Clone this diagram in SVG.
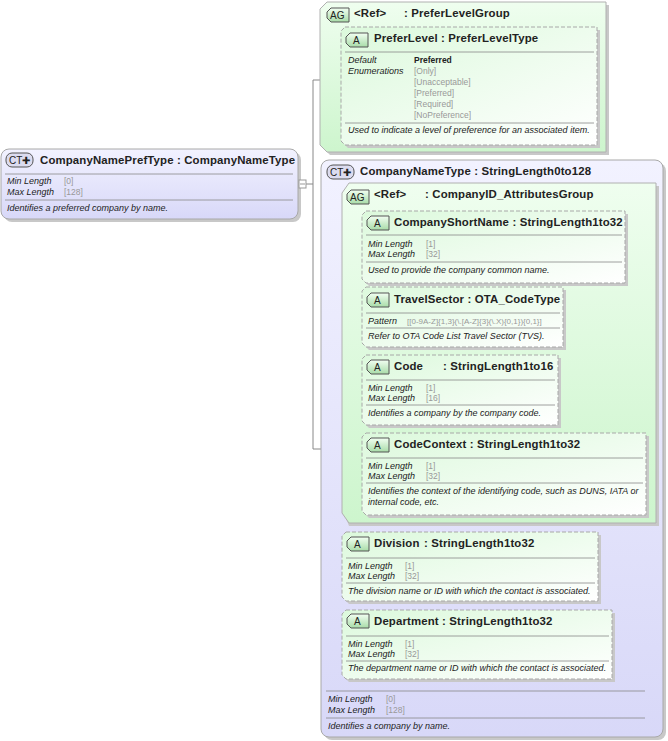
<svg xmlns="http://www.w3.org/2000/svg" width="668" height="741" viewBox="0 0 668 741">
<defs>
<linearGradient id="gG" x1="0" y1="0" x2="0" y2="1"><stop offset="0" stop-color="#effeef"/><stop offset="1" stop-color="#cdf5cd"/></linearGradient>
<linearGradient id="gA" x1="0" y1="0" x2="1" y2="1"><stop offset="0" stop-color="#dcf9dc"/><stop offset="1" stop-color="#ffffff"/></linearGradient>
<linearGradient id="gC" x1="0" y1="0" x2="0" y2="1"><stop offset="0" stop-color="#f2f2ff"/><stop offset="1" stop-color="#d8d8f8"/></linearGradient>
<linearGradient id="gB" x1="0" y1="0" x2="0" y2="1"><stop offset="0" stop-color="#f2fff2"/><stop offset="1" stop-color="#a8dca8"/></linearGradient>
</defs>
<style>
text{font-family:"Liberation Sans",Arial,sans-serif;fill:#222}
.t{font-size:11.4px;font-weight:bold;letter-spacing:0.15px}
.l{font-size:9px;font-style:italic}
.v{font-size:8.5px;fill:#999}
.b{font-size:10px}
.sh{fill:#c8c8c8}
.ag{fill:url(#gG);stroke:#b0b0b0}
.ct{fill:url(#gC);stroke:#a8a8a8}
.el{fill:url(#gA);stroke:#a8a8a8;stroke-dasharray:4,2}
.sep{stroke:#888;stroke-width:0.8}
.bd{fill:url(#gB);stroke:#555}
.bc{fill:#dcdcf0;stroke:#555}
.cn{fill:none;stroke:#888}
</style>
<g id="connectors">
<path class="cn" d="M306,184H313M313,80V449M313,80H341M313,449H321"/>
<path class="cn" d="M333,349V645M333,354H352M333,568H342M333,645H342"/>
<path class="cn" d="M352,254V472M352,254H362M352,322H362M352,390H362M352,472H362"/>
</g>
<g id="CompanyNamePrefType">
<rect class="sh" x="4" y="152" width="297" height="70" rx="8"/>
<rect class="ct" x="1" y="149" width="297" height="70" rx="8"/>
<rect class="bc" x="6" y="153" width="27" height="14" rx="6"/>
<text class="b" x="9" y="164">CT✚</text>
<text class="t" x="40" y="164">CompanyNamePrefType : CompanyNameType</text>
<line class="sep" x1="5" y1="174" x2="293" y2="174"/>
<text class="l" x="7" y="184">Min Length</text><text class="v" x="64" y="184">[0]</text>
<text class="l" x="7" y="195">Max Length</text><text class="v" x="64" y="195">[128]</text>
<line class="sep" x1="5" y1="200" x2="293" y2="200"/>
<text class="l" x="7" y="211">Identifies a preferred company by name.</text>
<rect x="299" y="180" width="7" height="8" fill="#fff" stroke="#999"/><line x1="300" y1="184" x2="305" y2="184" stroke="#999"/>
</g>
<g id="PreferLevelGroup">
<path class="sh" d="M330,5H609V155H330L323,148V12Z"/>
<path class="ag" d="M327,2H606V152H327L320,145V9Z"/>
<path class="bd" d="M331,8H349V22H331L327,18V12Z"/>
<text class="b" x="330" y="19">AG</text>
<text class="t" x="354" y="17">&lt;Ref&gt;</text>
<text class="t" x="404" y="17">: PreferLevelGroup</text>
</g>
<g id="PreferLevel">
<path class="sh" d="M348,30H600V148H348L344,144V34Z"/>
<path class="el" d="M345,27H597V145H345L341,141V31Z"/>
<path class="bd" d="M350,33H368V47H350L346,43V37Z"/>
<text class="b" x="353" y="44">A</text>
<text class="t" x="374" y="42">PreferLevel : PreferLevelType</text>
<line class="sep" x1="345" y1="52" x2="594" y2="52"/>
<text class="l" x="348" y="63">Default</text><text class="l" x="348" y="74">Enumerations</text>
<text x="414" y="63" style="font-size:8.5px;font-weight:bold">Preferred</text>
<text class="v" x="414" y="74">[Only]</text>
<text class="v" x="414" y="85">[Unacceptable]</text>
<text class="v" x="414" y="96">[Preferred]</text>
<text class="v" x="414" y="107">[Required]</text>
<text class="v" x="414" y="118">[NoPreference]</text>
<line class="sep" x1="345" y1="123" x2="594" y2="123"/>
<text class="l" x="348" y="133">Used to indicate a level of preference for an associated item.</text>
</g>
<g id="CompanyNameType">
<rect class="sh" x="324" y="163" width="342" height="577" rx="8"/>
<rect class="ct" x="321" y="160" width="342" height="577" rx="8"/>
<rect class="bc" x="327" y="165" width="27" height="14" rx="6"/>
<text class="b" x="330" y="176">CT✚</text>
<text class="t" x="360" y="175">CompanyNameType : StringLength0to128</text>
<line class="sep" x1="326" y1="691" x2="645" y2="691"/>
<text class="l" x="328" y="702">Min Length</text><text class="v" x="386" y="702">[0]</text>
<text class="l" x="328" y="713">Max Length</text><text class="v" x="386" y="713">[128]</text>
<line class="sep" x1="326" y1="718" x2="645" y2="718"/>
<text class="l" x="328" y="729">Identifies a company by name.</text>
</g>
<g id="CompanyID_AttributesGroup">
<path class="sh" d="M349,186H659V526H349L345,516V196Z"/>
<path class="ag" d="M349,183H656V523H349L342,513V193Z"/>
<path class="bd" d="M351,190H369V204H351L347,200V194Z"/>
<text class="b" x="350" y="201">AG</text>
<text class="t" x="374" y="198">&lt;Ref&gt;</text>
<text class="t" x="425" y="198">: CompanyID_AttributesGroup</text>
</g>
<g id="CompanyShortName">
<path class="sh" d="M369,214H628V286H369L365,282V218Z"/>
<path class="el" d="M366,211H625V283H366L362,279V215Z"/>
<path class="bd" d="M371,216H389V230H371L367,226V220Z"/>
<text class="b" x="374" y="227">A</text>
<text class="t" x="394" y="226">CompanyShortName : StringLength1to32</text>
<line class="sep" x1="366" y1="235" x2="622" y2="235"/>
<text class="l" x="368" y="247">Min Length</text><text class="v" x="426" y="247">[1]</text>
<text class="l" x="368" y="257">Max Length</text><text class="v" x="426" y="257">[32]</text>
<line class="sep" x1="366" y1="262" x2="622" y2="262"/>
<text class="l" x="368" y="273">Used to provide the company common name.</text>
</g>
<g id="TravelSector">
<path class="sh" d="M369,290H566V350H369L365,346V294Z"/>
<path class="el" d="M366,287H563V347H366L362,343V291Z"/>
<path class="bd" d="M371,293H389V307H371L367,303V297Z"/>
<text class="b" x="374" y="304">A</text>
<text class="t" x="394" y="303">TravelSector : OTA_CodeType</text>
<line class="sep" x1="366" y1="313" x2="560" y2="313"/>
<text class="l" x="368" y="324">Pattern</text><text class="v" x="407" y="324" style="font-size:8px">[[0-9A-Z]{1,3}(\.[A-Z]{3}(\.X){0,1}){0,1}]</text>
<line class="sep" x1="366" y1="328" x2="560" y2="328"/>
<text class="l" x="368" y="339">Refer to OTA Code List Travel Sector (TVS).</text>
</g>
<g id="Code">
<path class="sh" d="M369,358H561V428H369L365,424V362Z"/>
<path class="el" d="M366,355H558V425H366L362,421V359Z"/>
<path class="bd" d="M371,360H389V374H371L367,370V364Z"/>
<text class="b" x="374" y="371">A</text>
<text class="t" x="394" y="370">Code</text><text class="t" x="443" y="370">: StringLength1to16</text>
<line class="sep" x1="366" y1="380" x2="555" y2="380"/>
<text class="l" x="368" y="391">Min Length</text><text class="v" x="426" y="391">[1]</text>
<text class="l" x="368" y="401">Max Length</text><text class="v" x="426" y="401">[16]</text>
<line class="sep" x1="366" y1="405" x2="555" y2="405"/>
<text class="l" x="368" y="416">Identifies a company by the company code.</text>
</g>
<g id="CodeContext">
<path class="sh" d="M369,436H649V518H369L365,514V440Z"/>
<path class="el" d="M366,433H646V515H366L362,511V437Z"/>
<path class="bd" d="M371,438H389V452H371L367,448V442Z"/>
<text class="b" x="374" y="449">A</text>
<text class="t" x="394" y="448">CodeContext : StringLength1to32</text>
<line class="sep" x1="366" y1="458" x2="643" y2="458"/>
<text class="l" x="368" y="469">Min Length</text><text class="v" x="426" y="469">[1]</text>
<text class="l" x="368" y="479">Max Length</text><text class="v" x="426" y="479">[32]</text>
<line class="sep" x1="366" y1="483" x2="643" y2="483"/>
<text class="l" x="368" y="494">Identifies the context of the identifying code, such as DUNS, IATA or</text>
<text class="l" x="368" y="505">internal code, etc.</text>
</g>
<g id="Division">
<path class="sh" d="M349,535H601V604H349L345,600V539Z"/>
<path class="el" d="M346,532H598V601H346L342,597V536Z"/>
<path class="bd" d="M351,537H369V551H351L347,547V541Z"/>
<text class="b" x="354" y="548">A</text>
<text class="t" x="374" y="547">Division</text><text class="t" x="424" y="547">: StringLength1to32</text>
<line class="sep" x1="346" y1="558" x2="595" y2="558"/>
<text class="l" x="348" y="569">Min Length</text><text class="v" x="405" y="569">[1]</text>
<text class="l" x="348" y="579">Max Length</text><text class="v" x="405" y="579">[32]</text>
<line class="sep" x1="346" y1="583" x2="595" y2="583"/>
<text class="l" x="348" y="594">The division name or ID with which the contact is associated.</text>
</g>
<g id="Department">
<path class="sh" d="M349,613H615V682H349L345,678V617Z"/>
<path class="el" d="M346,610H612V679H346L342,675V614Z"/>
<path class="bd" d="M351,614H369V628H351L347,624V618Z"/>
<text class="b" x="354" y="625">A</text>
<text class="t" x="374" y="625">Department : StringLength1to32</text>
<line class="sep" x1="346" y1="636" x2="609" y2="636"/>
<text class="l" x="348" y="647">Min Length</text><text class="v" x="405" y="647">[1]</text>
<text class="l" x="348" y="657">Max Length</text><text class="v" x="405" y="657">[32]</text>
<line class="sep" x1="346" y1="661" x2="609" y2="661"/>
<text class="l" x="348" y="671">The department name or ID with which the contact is associated.</text>
</g>
</svg>
